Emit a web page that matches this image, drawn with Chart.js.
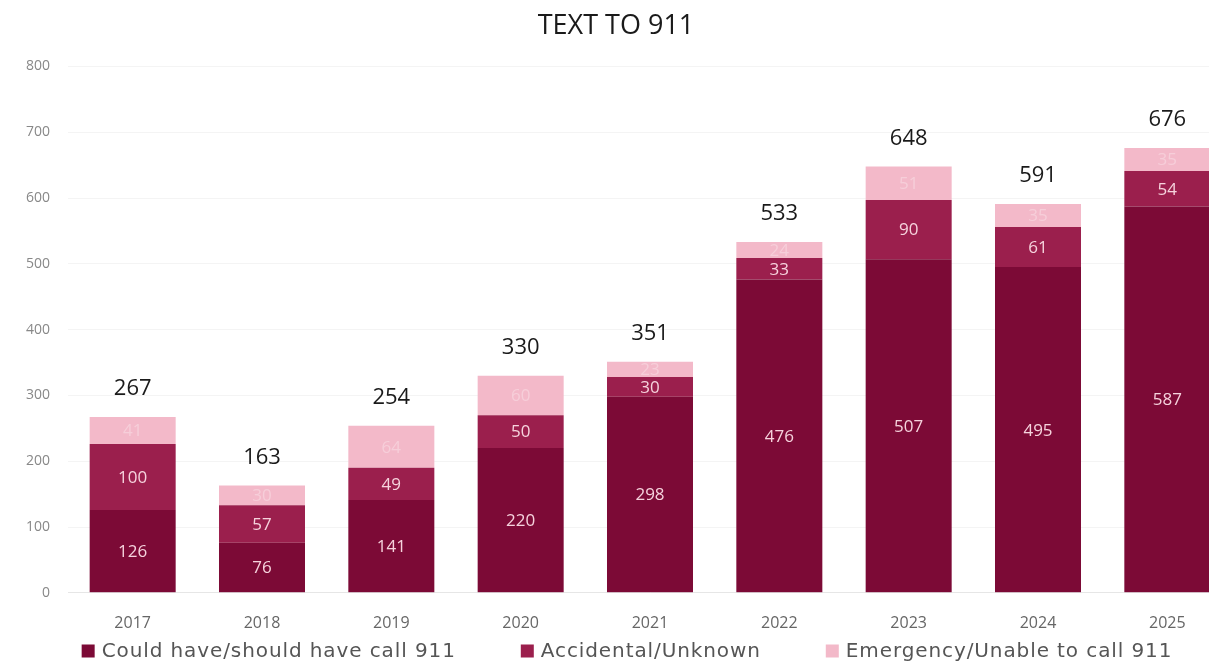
<!DOCTYPE html>
<html>
<head>
<meta charset="utf-8">
<script src="https://cdn.jsdelivr.net/npm/chart.js@4/dist/chart.umd.min.js"></script>
<style>
html,body{margin:0;padding:0;background:#fff;overflow:hidden;}
#wrap{width:1250px;height:666px;position:relative;}
</style>
</head>
<body>
<div id="wrap"><canvas id="c" width="1250" height="666"></canvas></div>
<script>
const years = ['2017','2018','2019','2020','2021','2022','2023','2024','2025'];
const couldHave = [126, 76, 141, 220, 298, 476, 507, 495, 587];
const accidental = [100, 57, 49, 50, 30, 33, 90, 61, 54];
const emergency = [41, 30, 64, 60, 23, 24, 51, 35, 35];
const yTicks = [0, 100, 200, 300, 400, 500, 600, 700, 800];
const seriesNames = ['Could have/should have call 911', 'Accidental/Unknown', 'Emergency/Unable to call 911'];
const seriesColors = ['#7c0a36', '#9b1f4d', '#f3b9c9'];

const labelPlugin = {
  id: 'labels',
  afterDatasetsDraw(chart) {
    const ctx = chart.ctx;
    ctx.save();
    ctx.textAlign = 'center';
    ctx.textBaseline = 'middle';
    chart.data.datasets.forEach((ds, di) => {
      const meta = chart.getDatasetMeta(di);
      meta.data.forEach((bar, i) => {
        const mid = (bar.y + bar.base) / 2;
        ctx.font = '17px "Open Sans", sans-serif';
        ctx.fillStyle = di === 2 ? 'rgba(255,255,255,0.3)' : '#f6d3dd';
        ctx.fillText(String(ds.data[i]), bar.x, mid + 1);
      });
    });
    const last = chart.getDatasetMeta(chart.data.datasets.length - 1);
    last.data.forEach((bar, i) => {
      const total = couldHave[i] + accidental[i] + emergency[i];
      ctx.font = '22px "Open Sans", sans-serif';
      ctx.fillStyle = '#1a1a1a';
      ctx.fillText(String(total), bar.x, bar.y - 28);
    });
    ctx.restore();
  }
};

const legendPlugin = {
  id: 'customLegend',
  afterDraw(chart) {
    const ctx = chart.ctx;
    ctx.save();
    ctx.font = '20px "DejaVu Sans", sans-serif';
    ctx.letterSpacing = '0.9px';
    ctx.textBaseline = 'middle';
    ctx.textAlign = 'left';
    const box = 13, gapBoxText = 7, gapItems = 65;
    const widths = seriesNames.map(n => ctx.measureText(n).width);
    const total = widths.reduce((a, w) => a + box + gapBoxText + w, 0) + gapItems * (seriesNames.length - 1);
    let x = 627 - total / 2;
    const y = 651;
    seriesNames.forEach((n, i) => {
      ctx.fillStyle = seriesColors[i];
      ctx.fillRect(x, y - box / 2, box, box);
      x += box + gapBoxText;
      ctx.fillStyle = '#555';
      ctx.fillText(n, x, y + 1);
      x += widths[i] + gapItems;
    });
    ctx.restore();
  }
};

new Chart(document.getElementById('c'), {
  type: 'bar',
  data: {
    labels: years,
    datasets: seriesNames.map((n, i) => ({
      label: n,
      data: [couldHave, accidental, emergency][i],
      backgroundColor: seriesColors[i]
    }))
  },
  options: {
    responsive: false,
    animation: false,
    layout: { padding: { left: 0, right: 18, top: 6, bottom: 20 } },
    datasets: { bar: { categoryPercentage: 1.0, barPercentage: 0.665 } },
    plugins: {
      title: {
        display: true,
        text: 'TEXT TO 911',
        color: '#1a1a1a',
        font: { family: '"Open Sans", sans-serif', size: 27, weight: 'normal' },
        padding: { top: 4, bottom: 24 }
      },
      legend: { display: false },
      tooltip: { enabled: false }
    },
    scales: {
      x: {
        stacked: true,
        grid: { display: false },
        border: { color: '#e6e6e6' },
        ticks: { color: '#666', font: { family: '"Open Sans", sans-serif', size: 16 }, padding: 13 }
      },
      y: {
        stacked: true,
        min: 0, max: 800,
        afterBuildTicks(axis) { axis.ticks = yTicks.map(v => ({ value: v })); },
        afterFit(axis) { axis.width = 68; },
        grid: { color: '#f4f4f4', drawTicks: false },
        border: { display: false },
        ticks: { color: '#888', font: { family: '"Open Sans", sans-serif', size: 14 }, padding: 18 }
      }
    }
  },
  plugins: [labelPlugin, legendPlugin]
});
</script>
</body>
</html>
